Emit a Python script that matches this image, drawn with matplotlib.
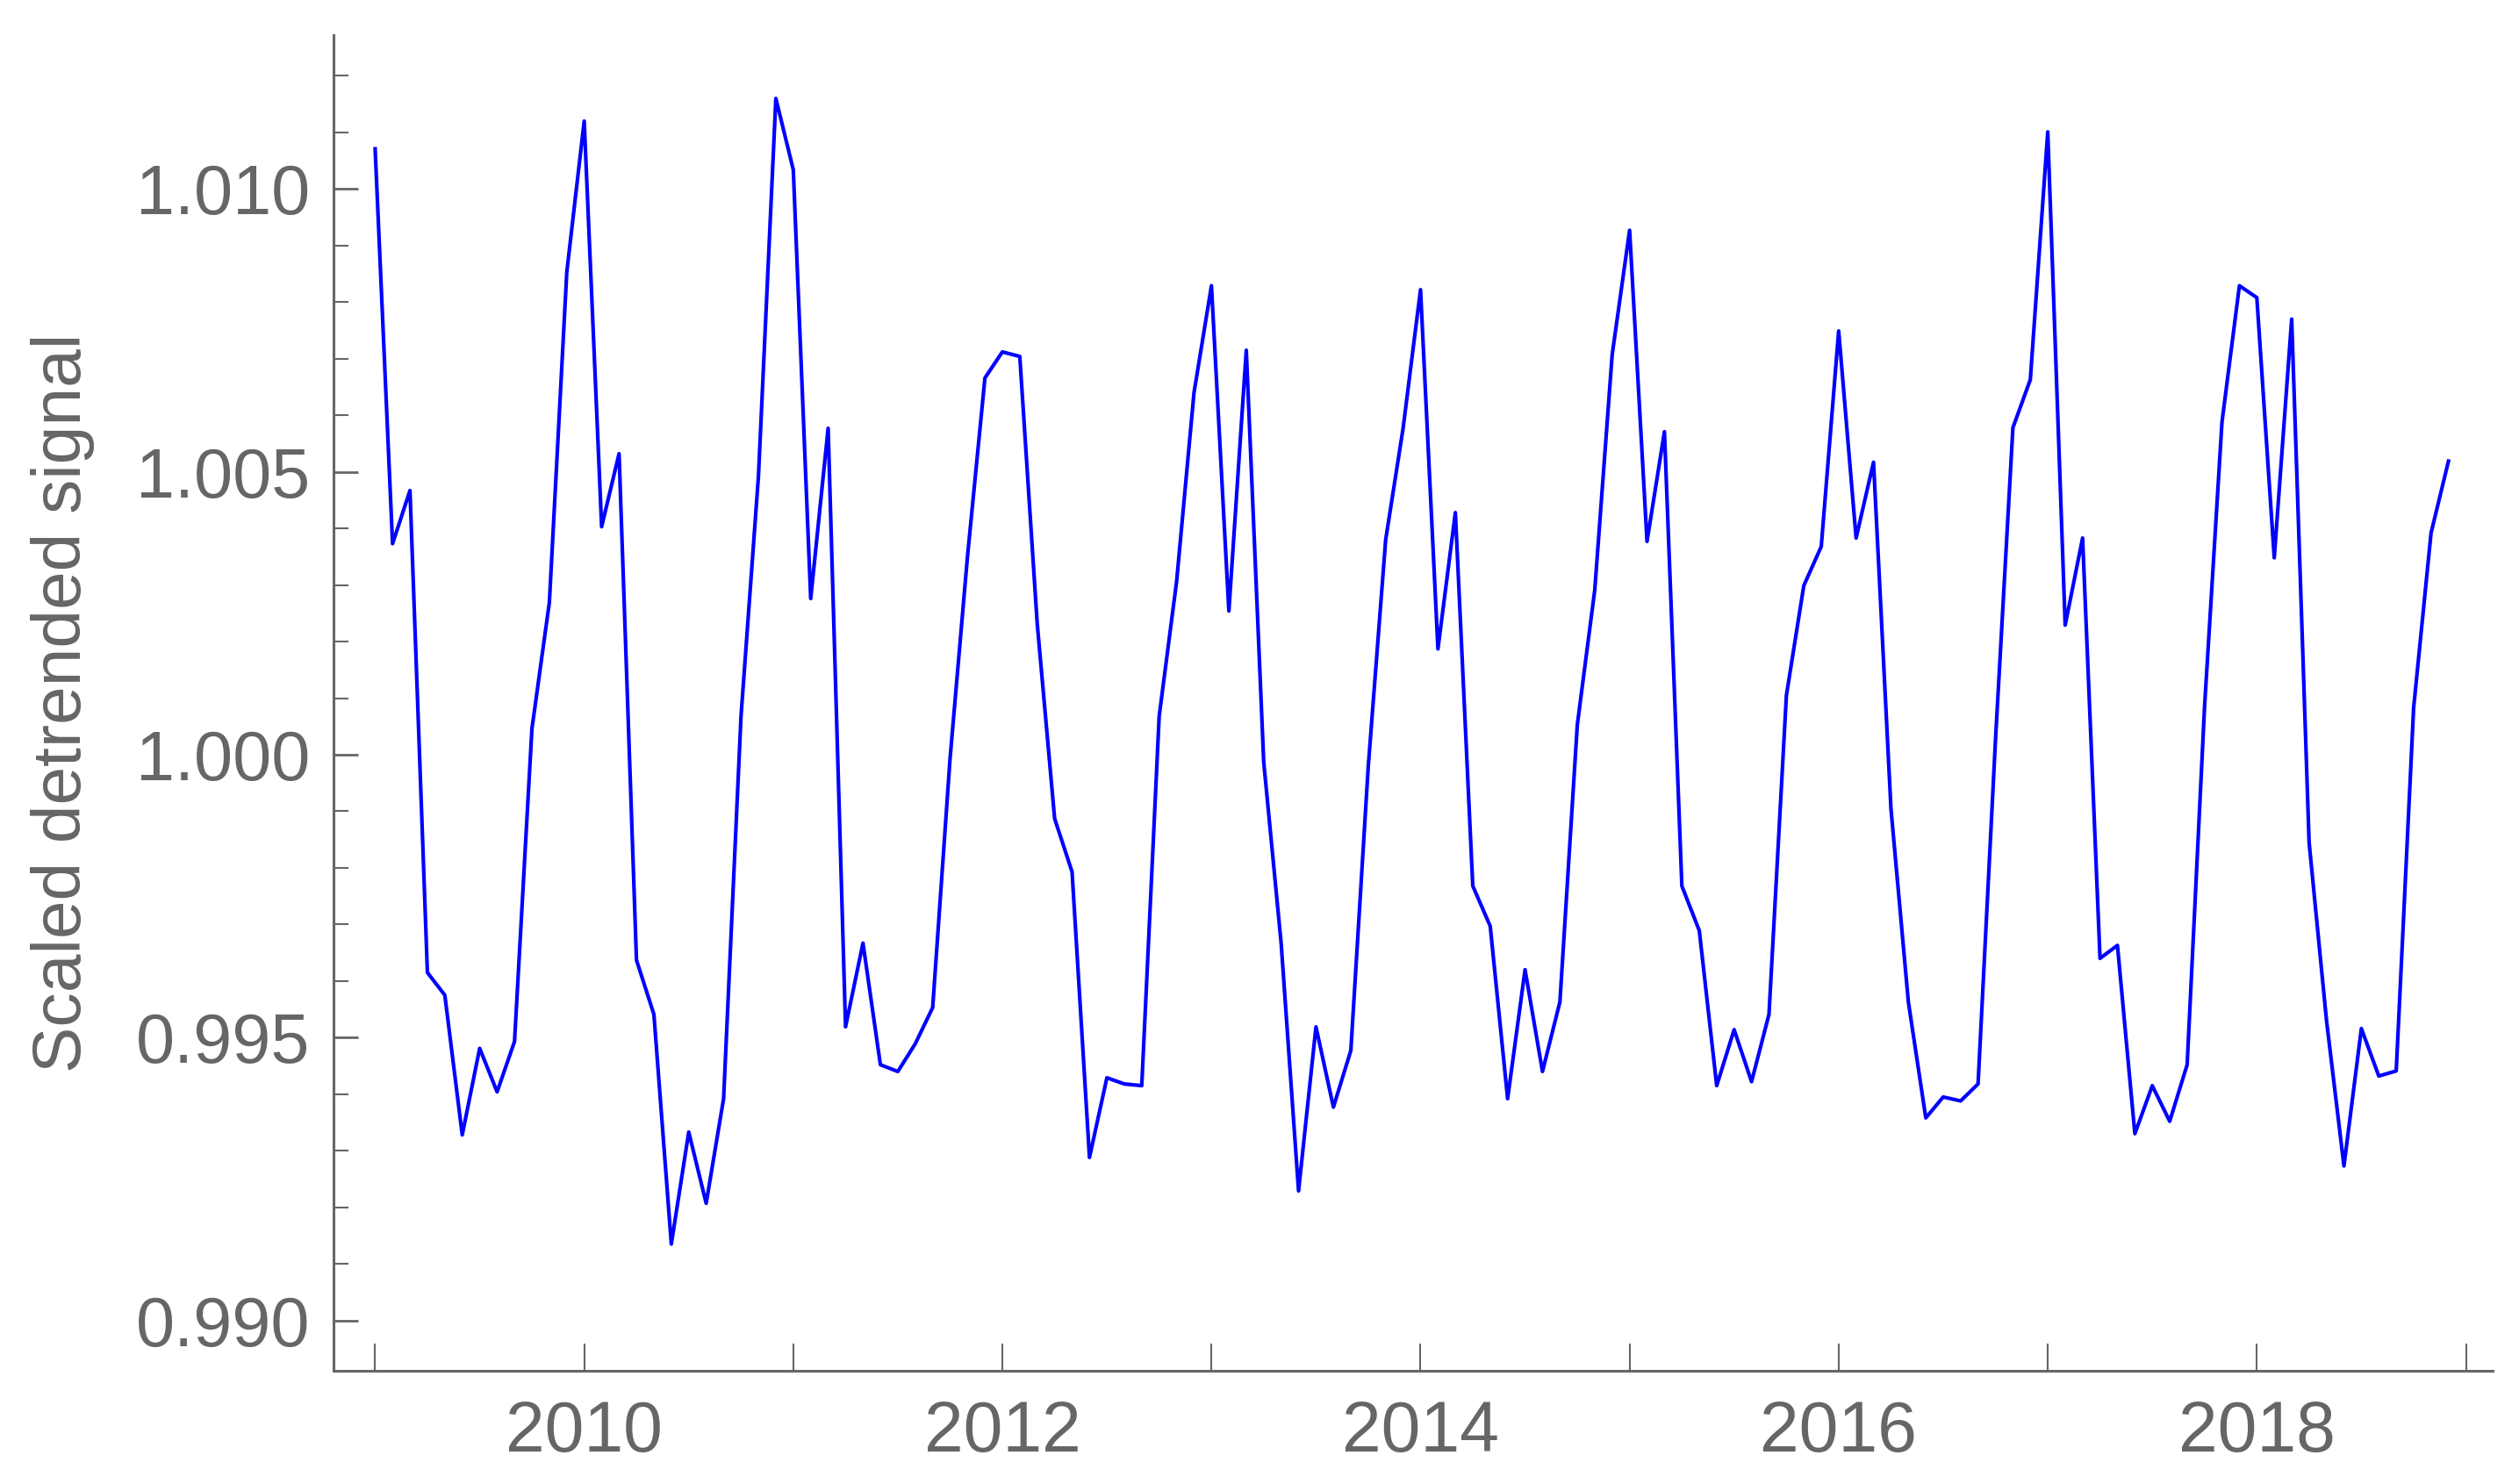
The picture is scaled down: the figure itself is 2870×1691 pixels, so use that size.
import numpy as np
import matplotlib.pyplot as plt
from matplotlib.ticker import MultipleLocator

# Monthly scaled detrended signal, Jan 2009 .. Dec 2018 (one row per year)
signal = [
    1.01071, 1.00373, 1.00467, 0.99615, 0.99575, 0.99328, 0.99481, 0.99404, 0.99493, 1.00046, 1.00269, 1.00853,
    1.01120, 1.00403, 1.00532, 0.99637, 0.99541, 0.99135, 0.99333, 0.99207, 0.99392, 1.00068, 1.00492, 1.01160,
    1.01034, 1.00276, 1.00577, 0.99519, 0.99667, 0.99452, 0.99440, 0.99489, 0.99553, 0.99994, 1.00351, 1.00666,
    1.00712, 1.00704, 1.00232, 0.99887, 0.99793, 0.99288, 0.99429, 0.99418, 0.99415, 1.00068, 1.00306, 1.00640,
    1.00829, 1.00254, 1.00715, 0.99987, 0.99667, 0.99229, 0.99519, 0.99377, 0.99477, 0.99979, 1.00380, 1.00577,
    1.00822, 1.00187, 1.00428, 0.99768, 0.99697, 0.99392, 0.99620, 0.99440, 0.99563, 1.00053, 1.00291, 1.00707,
    1.00927, 1.00377, 1.00571, 0.99768, 0.99689, 0.99415, 0.99514, 0.99422, 0.99541, 1.00105, 1.00299, 1.00368,
    1.00749, 1.00383, 1.00517, 0.99905, 0.99563, 0.99358, 0.99395, 0.99388, 0.99418, 1.00026, 1.00578, 1.00663,
    1.01101, 1.00229, 1.00383, 0.99640, 0.99663, 0.99330, 0.99415, 0.99352, 0.99452, 1.00085, 1.00588, 1.00829,
    1.00808, 1.00348, 1.00770, 0.99845, 0.99530, 0.99273, 0.99516, 0.99432, 0.99441, 1.00083, 1.00392, 1.00519,
]
start_year = 2009
years = list(range(2009, 2020))
year_labels = [str(y) if y % 2 == 0 else "" for y in years]
y_ticks = [0.990, 0.995, 1.000, 1.005, 1.010]
y_labels = ["0.990", "0.995", "1.000", "1.005", "1.010"]

t = start_year + np.arange(len(signal)) / 12

plt.rcParams['font.family'] = ['Liberation Sans', 'DejaVu Sans']
gray = '#666666'

fig = plt.figure(figsize=(28.7, 16.91), dpi=100)
ax = fig.add_axes([380 / 2870, 1 - 1562 / 1691, 2460 / 2870, 1522 / 1691])

ax.plot(t, signal, color='#0000ff', lw=3.0)

ax.set_xlim(2008.801, 2019.128)
ax.set_ylim(0.98911, 1.01272)

ax.spines['top'].set_visible(False)
ax.spines['right'].set_visible(False)
for s in ['left', 'bottom']:
    ax.spines[s].set_color(gray)
    ax.spines[s].set_linewidth(2.2)

ax.set_xticks(years)
ax.set_xticklabels(year_labels)
ax.set_yticks(y_ticks)
ax.set_yticklabels(y_labels)
ax.yaxis.set_minor_locator(MultipleLocator(0.001))

ax.tick_params(axis='x', direction='in', length=22, width=1.5, color=gray,
               labelcolor=gray, labelsize=58, pad=24)
ax.tick_params(axis='y', which='major', direction='in', length=20, width=2, color=gray,
               labelcolor=gray, labelsize=57, pad=19)
ax.tick_params(axis='y', which='minor', direction='in', length=12, width=1.5, color=gray)

fig.text(72 / 2870, 1 - 801 / 1691, "Scaled detrended signal", rotation=90,
         ha='center', va='center', fontsize=56.5, color=gray)

fig.savefig('out.png', dpi=100)
